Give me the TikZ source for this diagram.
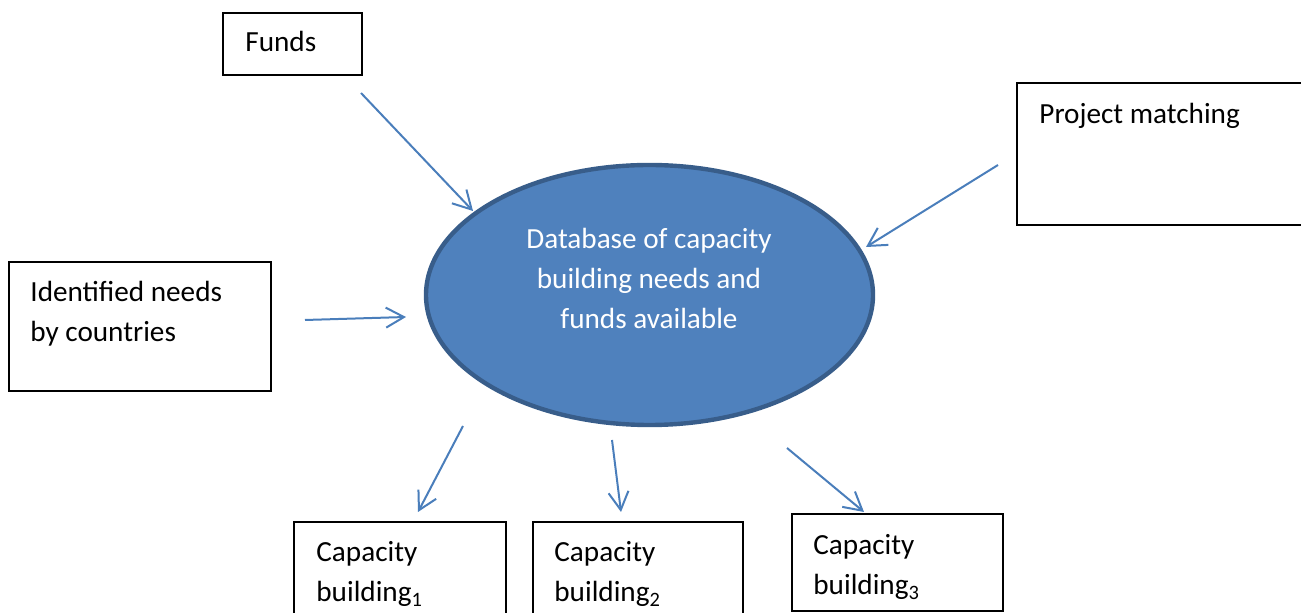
\documentclass[tikz,border=0pt]{standalone}
\usepackage{fontspec}
\setmainfont{Carlito}
\usetikzlibrary{arrows.meta,fit,shapes.geometric}
\definecolor{dbfill}{HTML}{4F81BD}
\definecolor{dbedge}{HTML}{385D8A}
\definecolor{linkblue}{HTML}{4A7EBB}

\begin{document}
\begin{tikzpicture}[x=0.5pt, y=-0.5pt,
  box/.style={draw, line width=1pt, inner sep=0pt},
  boxtext/.style={anchor=base west, inner sep=0pt, align=left, font=\fontsize{14.6pt}{20pt}\selectfont},
  dbtext/.style={anchor=base, inner sep=0pt, align=center, text=white, font=\fontsize{14.6pt}{20pt}\selectfont},
  link/.style={draw=linkblue, line width=1pt, -{Straight Barb[length=9pt,width=10pt]}}]
\useasboundingbox (0,0) rectangle (1301,613);

% multi-line texts sit on the baseline of their last line
\node[boxtext] (top cut) at (330,-4) {g};

\node[ellipse, fill=dbfill, draw=dbedge, line width=2.2pt, inner sep=0pt, minimum width=223.5pt, minimum height=130pt] (db) at (649.5,295) {};
\node[dbtext] (db text) at (649,329) {Database of capacity\\building needs and\\funds available};

\node[box, fit={(223,13) (362,75)}] (funds) {};
\node[boxtext] (funds text) at (245,52) {Funds};
\node[box, fit={(1017,83) (1320,225)}] (match) {};
\node[boxtext] (match text) at (1039,124) {Project matching};
\node[box, fit={(9,262) (271,391)}] (needs) {};
\node[boxtext] (needs text) at (30,342) {Identified needs\\by countries};

\node[box, fit={(294,522) (506,630)}] (cb1) {};
\node[boxtext] (cb1 text) at (316,602) {Capacity\\building\textsubscript{1}};
\node[box, fit={(533,522) (743,630)}] (cb2) {};
\node[boxtext] (cb2 text) at (554,602) {Capacity\\building\textsubscript{2}};
\node[box, fit={(792,514) (1003,611)}] (cb3) {};
\node[boxtext] (cb3 text) at (813,595) {Capacity\\building\textsubscript{3}};

\coordinate (funds out) at (361,93);
\coordinate (funds in) at (473,211);
\coordinate (match out) at (998,165);
\coordinate (match in) at (866,247);
\coordinate (needs out) at (305,320);
\coordinate (needs in) at (406,317);
\coordinate (cb1 out) at (463,426);
\coordinate (cb1 in) at (418,512);
\coordinate (cb2 out) at (612,440);
\coordinate (cb2 in) at (621,512);
\coordinate (cb3 out) at (787,448);
\coordinate (cb3 in) at (864,512);

\draw[link] (funds out) -- (funds in);
\draw[link] (match out) -- (match in);
\draw[link] (needs out) -- (needs in);
\draw[link] (cb1 out) -- (cb1 in);
\draw[link] (cb2 out) -- (cb2 in);
\draw[link] (cb3 out) -- (cb3 in);
\end{tikzpicture}
\end{document}
